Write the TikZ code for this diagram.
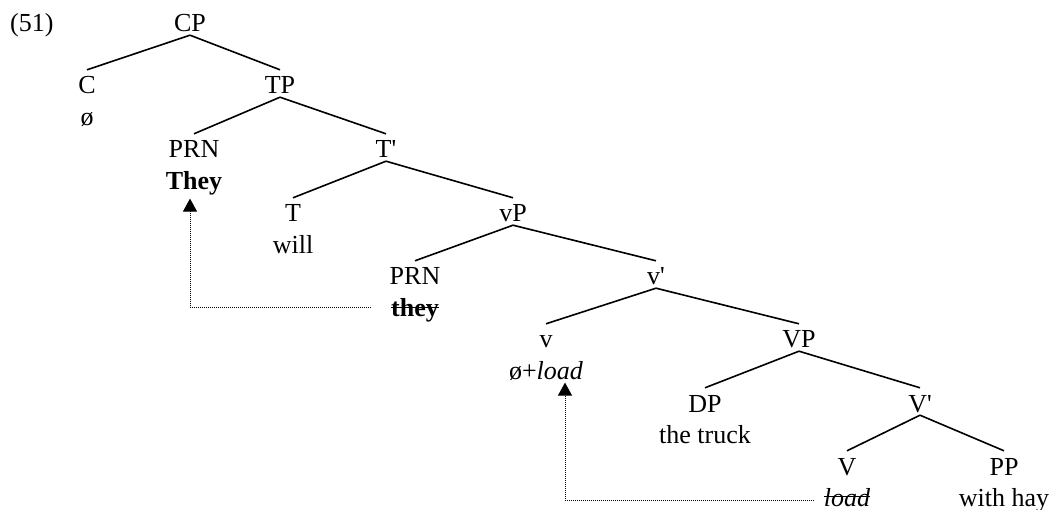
\documentclass[tikz,border=0pt]{standalone}
\usepackage{fontspec}
\setmainfont{Liberation Serif}[Ligatures=TeXOff]
\usepackage{tikz}
\usetikzlibrary{arrows.meta, positioning}

\begin{document}
\begin{tikzpicture}[
    x=1pt, y=-1pt,
    node distance=10pt,
    font=\fontsize{26}{31}\selectfont,
    cat/.style={inner sep=0pt, text height=24pt, text depth=3pt, anchor=base},
    word/.style={inner sep=0pt, text height=18pt, text depth=6pt},
    branch/.style={line width=1.6pt},
    strike/.style={line width=1.6pt},
    move/.style={line width=0.9pt, dash pattern=on 1pt off 1pt, -{Triangle[width=14pt, length=13pt]}},
]
    \useasboundingbox (0,0) rectangle (1060,510);

    % Example number
    \node[inner sep=0pt, anchor=base west] (exnum) at (10,32) {(51)};

    % CP layer
    \node[cat] (cp) at (190,32) {CP};
    \node[cat] (c) at (87,94) {C};
    \node[word, below=of c] (c-word) {ø};
    \node[cat] (tp) at (280,94) {TP};

    % TP layer
    \node[cat] (prn-a) at (194,158) {PRN};
    \node[word, below=of prn-a] (prn-a-word) {\textbf{They}};
    \node[cat] (tbar) at (386,158) {T'};

    % T' layer
    \node[cat] (t) at (293,222) {T};
    \node[word, below=of t] (t-word) {will};
    \node[cat] (littlevp) at (513,222) {vP};

    % vP layer
    \node[cat] (prn-b) at (415,285) {PRN};
    \node[word, below=of prn-b] (prn-b-word) {\textbf{they}};
    \node[cat] (littlevbar) at (656,285) {v'};

    % v' layer
    \node[cat] (littlev) at (546,348) {v};
    \node[word, below=of littlev] (littlev-word) {ø+\textit{load}};
    \node[cat] (vp) at (799,348) {VP};

    % VP layer
    \node[cat] (dp) at (705,412) {DP};
    \node[word, below=of dp] (dp-word) {the truck};
    \node[cat] (vbar) at (920,412) {V'};

    % V' layer
    \node[cat] (v) at (847,475) {V};
    \node[word, below=of v] (v-word) {\textit{load}};
    \node[cat] (pp) at (1004,475) {PP};
    \node[word, below=of pp] (pp-word) {with hay};

    % Branches
    \draw[branch] (cp.south) -- (c.north);
    \draw[branch] (cp.south) -- (tp.north);
    \draw[branch] (tp.south) -- (prn-a.north);
    \draw[branch] (tp.south) -- (tbar.north);
    \draw[branch] (tbar.south) -- (t.north);
    \draw[branch] (tbar.south) -- (littlevp.north);
    \draw[branch] (littlevp.south) -- (prn-b.north);
    \draw[branch] (littlevp.south) -- (littlevbar.north);
    \draw[branch] (littlevbar.south) -- (littlev.north);
    \draw[branch] (littlevbar.south) -- (vp.north);
    \draw[branch] (vp.south) -- (dp.north);
    \draw[branch] (vp.south) -- (vbar.north);
    \draw[branch] (vbar.south) -- (v.north);
    \draw[branch] (vbar.south) -- (pp.north);

    % Deleted copies
    \draw[strike] ([yshift=9pt]prn-b-word.base west) -- ([yshift=9pt]prn-b-word.base east);
    \draw[strike] ([yshift=10pt]v-word.base west) -- ([yshift=10pt]v-word.base east);

    % Movement
    \draw[move] ([xshift=-20pt, yshift=9pt]prn-b-word.base west) -| ([xshift=-4pt, yshift=-3pt]prn-a-word.south);
    \draw[move] ([xshift=-10pt, yshift=6pt]v-word.base west) -| ([xshift=19pt, yshift=3pt]littlev-word.south);

\end{tikzpicture}
\end{document}
